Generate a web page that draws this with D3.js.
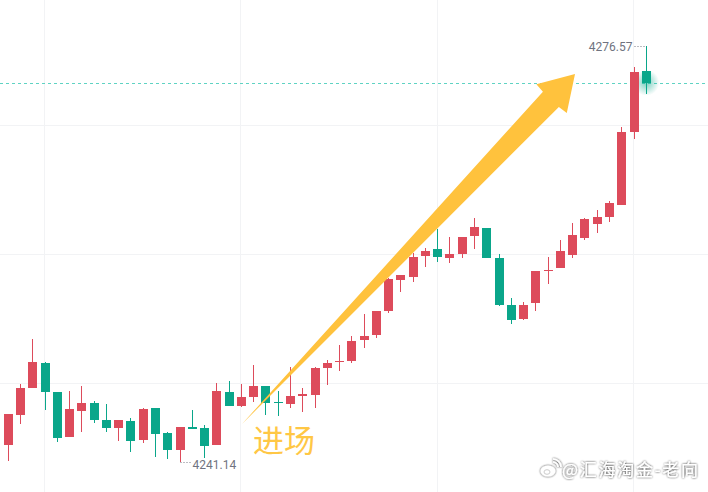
<!DOCTYPE html>
<html><head><meta charset="utf-8">
<script src="https://cdn.jsdelivr.net/npm/d3@7"></script>
<style>html,body{margin:0;padding:0;background:#fff;overflow:hidden} svg{display:block}</style>
</head><body>
<svg id="c" width="708" height="492"></svg>
<script>
// ---- data ----
const opens  = [4242.56,4245.14,4247.44,4249.55,4247.08,4243.27,4245.48,4246.14,4244.69,4244.04,
                4244.61,4243.01,4245.71,4243.58,4242.16,4244.10,4244.01,4242.59,4247.08,4245.91,
                4246.68,4247.59,4246.23,4246.08,4246.76,4246.85,4249.12,4249.63,4249.74,4251.53,
                4251.96,4254.00,4256.62,4256.90,4258.69,4259.26,4258.51,4258.86,4260.39,4261.04,
                4258.49,4254.49,4253.32,4254.68,4257.41,4257.66,4258.77,4260.22,4261.41,4262.01,
                4263.03,4269.25,4274.42];
const highs  = [4245.20,4247.76,4251.59,4249.63,4247.08,4247.16,4247.59,4246.31,4246.05,4244.69,
                4244.86,4245.71,4245.71,4243.70,4244.10,4245.54,4244.27,4247.84,4248.01,4247.76,
                4249.38,4247.59,4247.16,4249.21,4247.42,4249.21,4249.80,4251.08,4251.85,4253.72,
                4253.98,4256.79,4257.04,4258.92,4259.34,4260.96,4260.28,4260.28,4261.90,4261.04,
                4258.83,4255.08,4254.74,4257.38,4258.60,4260.02,4261.47,4261.90,4262.58,4263.34,
                4269.65,4274.76,4276.57];
const lows   = [4241.23,4244.35,4247.44,4245.54,4242.84,4243.27,4243.70,4244.46,4243.70,4242.90,
                4241.99,4242.76,4241.57,4241.40,4241.14,4243.95,4241.48,4242.59,4245.91,4245.82,
                4246.25,4245.14,4245.03,4245.74,4245.40,4245.74,4247.70,4248.87,4249.57,4250.85,
                4251.70,4253.83,4255.62,4256.47,4257.75,4258.17,4258.09,4258.51,4259.28,4258.51,
                4254.43,4252.89,4253.23,4254.00,4256.30,4257.66,4258.51,4260.05,4260.64,4261.58,
                4263.03,4268.65,4272.48];
const closes = [4245.20,4247.42,4249.63,4247.10,4243.18,4245.63,4246.14,4244.72,4244.04,4244.69,
                4242.93,4245.63,4243.52,4242.16,4244.10,4243.95,4242.50,4247.16,4245.91,4246.65,
                4247.59,4246.11,4246.11,4246.74,4246.93,4249.12,4249.55,4249.72,4251.42,4251.85,
                4253.98,4256.70,4257.04,4258.57,4259.09,4258.60,4258.83,4260.28,4261.13,4258.51,
                4254.51,4253.23,4254.49,4257.38,4257.49,4259.09,4260.45,4261.81,4261.98,4263.17,
                4269.22,4274.33,4273.42];
const gridPrices  = [4247.84, 4258.83, 4269.82];
const gridIndices = [3, 19, 35, 51];
const highLabel = "4276.57";
const lowLabel  = "4241.14";
const entryText = "进场";
const watermarkText = "@汇海淘金-老向";
const arrowFrom = {i: 19.05, p: 4244.35};
const arrowTo   = {i: 46.19, p: 4274.16};

// ---- build ----
const W = 708, H = 492;
const UP = "#dd4b5b", DOWN = "#0aa68a", ARROW = "#ffc23d";
const candles = opens.map((o, i) => ({i, o, h: highs[i], l: lows[i], c: closes[i]}));
const x = d3.scaleLinear().domain([0, candles.length - 1]).range([8.3, 646.3]);
const y = d3.scaleLinear().domain([4241.14, 4276.57]).range([461.7, 45.7]);
const svg = d3.select("#c");
const defs = svg.append("defs");

// grid
svg.append("g").selectAll("line").data(gridPrices).join("line")
  .attr("x1", 0).attr("x2", W)
  .attr("y1", d => Math.round(y(d)) + 0.5).attr("y2", d => Math.round(y(d)) + 0.5)
  .attr("stroke", "#f2f3f5").attr("stroke-width", 1);
svg.append("g").selectAll("line").data(gridIndices).join("line")
  .attr("x1", d => Math.round(x(d) - 1) + 0.5).attr("x2", d => Math.round(x(d) - 1) + 0.5)
  .attr("y1", 0).attr("y2", H)
  .attr("stroke", "#f2f3f5").attr("stroke-width", 1);

// last price dotted line
const last = candles[candles.length - 1];
svg.append("line")
  .attr("x1", 0).attr("x2", W)
  .attr("y1", Math.round(y(last.c)) + 0.5).attr("y2", Math.round(y(last.c)) + 0.5)
  .attr("stroke", "#5fd3c3").attr("stroke-width", 1).attr("stroke-dasharray", "3,3");

// glow
const rg = defs.append("radialGradient").attr("id", "glow");
rg.append("stop").attr("offset", "0%").attr("stop-color", DOWN).attr("stop-opacity", 0.55);
rg.append("stop").attr("offset", "100%").attr("stop-color", DOWN).attr("stop-opacity", 0);
svg.append("circle").attr("cx", x(last.i)).attr("cy", y(last.c)).attr("r", 13).attr("fill", "url(#glow)");

// candles
const g = svg.append("g");
const cg = g.selectAll("g").data(candles).join("g");
cg.append("rect")
  .attr("x", d => Math.round(x(d.i) - 4.5) + 4).attr("width", 1)
  .attr("y", d => Math.round(y(d.h))).attr("height", d => Math.max(1, Math.round(y(d.l)) - Math.round(y(d.h))))
  .attr("fill", d => d.c >= d.o ? UP : DOWN);
cg.append("rect")
  .attr("x", d => Math.round(x(d.i) - 4.5)).attr("width", 9)
  .attr("y", d => Math.round(y(Math.max(d.o, d.c))))
  .attr("height", d => Math.max(1, Math.round(y(Math.min(d.o, d.c))) - Math.round(y(Math.max(d.o, d.c)))))
  .attr("fill", d => d.c >= d.o ? UP : DOWN);

// high / low labels
const hiIdx = d3.maxIndex(highs), loIdx = d3.minIndex(lows);
const hx = Math.round(x(hiIdx) - 4.5) + 4.5, hy = Math.round(y(highs[hiIdx])) + 0.5;
svg.append("line").attr("x1", hx - 12).attr("x2", hx).attr("y1", hy).attr("y2", hy)
  .attr("stroke", "#787b86").attr("stroke-dasharray", "1,2");
svg.append("text").attr("x", hx - 14).attr("y", hy + 4.5).attr("text-anchor", "end")
  .attr("font-family", "Roboto, 'Liberation Sans', sans-serif").attr("font-size", 12)
  .attr("fill", "#6f7380").text(highLabel);
const lx = Math.round(x(loIdx) - 4.5) + 4.5, ly = Math.round(y(lows[loIdx])) + 0.5;
svg.append("line").attr("x1", lx).attr("x2", lx + 11).attr("y1", ly).attr("y2", ly)
  .attr("stroke", "#787b86").attr("stroke-dasharray", "1,2");
svg.append("text").attr("x", lx + 12).attr("y", ly + 6.5).attr("text-anchor", "start")
  .attr("font-family", "Roboto, 'Liberation Sans', sans-serif").attr("font-size", 12)
  .attr("fill", "#6f7380").text(lowLabel);

// arrow
const T = [x(arrowFrom.i), y(arrowFrom.p)], Hd = [x(arrowTo.i), y(arrowTo.p)];
const dx = Hd[0] - T[0], dy = Hd[1] - T[1], L = Math.hypot(dx, dy);
const u = [dx / L, dy / L], n = [-u[1], u[0]];
const pt = (t, w) => [T[0] + u[0] * t + n[0] * w, T[1] + u[1] * t + n[1] * w];
const headLen = 35, notchW = 11, barbW = 21;
const poly = [pt(0, 0), pt(L - headLen, notchW), pt(L - headLen + 1, barbW), pt(L, 0),
              pt(L - headLen + 1, -barbW), pt(L - headLen, -notchW)];
svg.append("path").attr("d", d3.line()(poly) + "Z").attr("fill", ARROW);

// entry text
svg.append("text").attr("x", x(arrowFrom.i) + 11).attr("y", y(arrowFrom.p) + 28)
  .attr("font-family", "'Noto Sans CJK SC', sans-serif").attr("font-size", 31)
  .attr("fill", "#ffc745").text(entryText);

// watermark
const sh = defs.append("filter").attr("id", "sh").attr("x", "-10%").attr("y", "-30%").attr("width", "120%").attr("height", "160%");
sh.append("feGaussianBlur").attr("in", "SourceAlpha").attr("stdDeviation", 1.2).attr("result", "b");
sh.append("feComponentTransfer").attr("in", "b").attr("result", "b2")
  .append("feFuncA").attr("type", "linear").attr("slope", 0.9);
const fm = sh.append("feMerge");
fm.append("feMergeNode").attr("in", "b2");
fm.append("feMergeNode").attr("in", "SourceGraphic");
const wm = svg.append("g").attr("filter", "url(#sh)");
wm.append("text").attr("x", 562).attr("y", 476)
  .attr("font-family", "'Noto Sans CJK SC', sans-serif").attr("font-size", 17)
  .attr("fill", "#ffffff").attr("textLength", 136).text(watermarkText);
// weibo-like logo
wm.append("ellipse").attr("cx", 548).attr("cy", 471).attr("rx", 7.5).attr("ry", 5.5).attr("fill", "#fff");
wm.append("ellipse").attr("cx", 547).attr("cy", 472).attr("rx", 3).attr("ry", 2.3).attr("fill", "none").attr("stroke", "#ccc").attr("stroke-width", 1);
wm.append("path").attr("d", "M553,462 A5,5 0 0 1 558,467").attr("fill", "none").attr("stroke", "#fff").attr("stroke-width", 1.6);
wm.append("path").attr("d", "M553,459 A8,8 0 0 1 561,467").attr("fill", "none").attr("stroke", "#fff").attr("stroke-width", 1.6);
</script>
</body></html>
